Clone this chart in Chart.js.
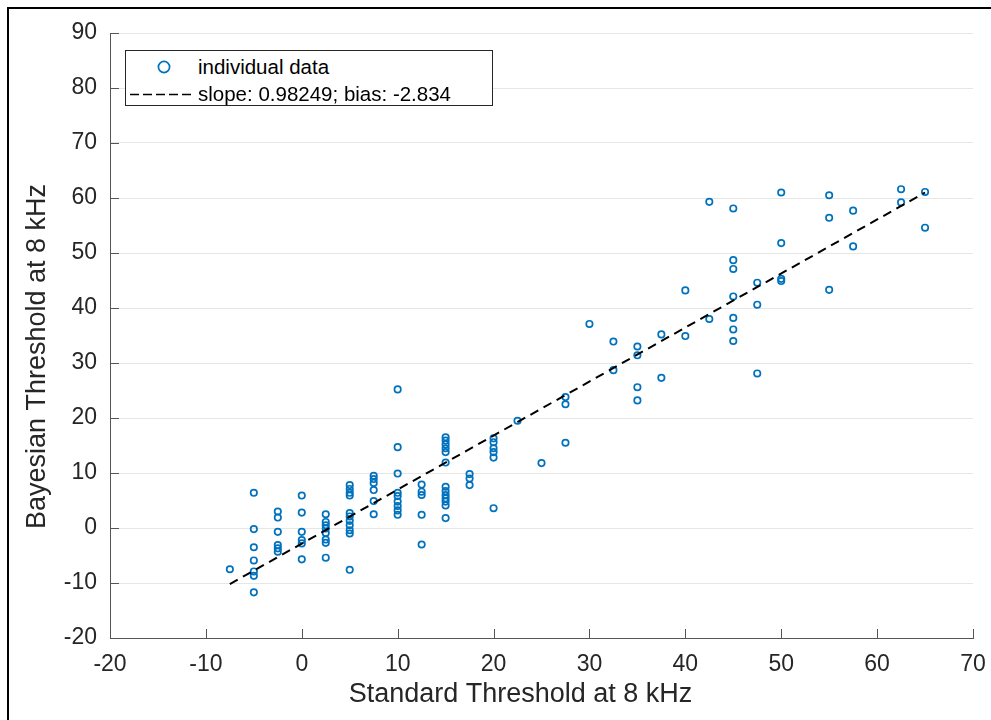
<!DOCTYPE html>
<html>
<head>
<meta charset="utf-8">
<script src="https://cdn.jsdelivr.net/npm/chart.js@4.4.1/dist/chart.umd.min.js"></script>
<style>
html,body{margin:0;padding:0;background:#fff;overflow:hidden}
#wrap{position:relative;width:991px;height:720px}
#c{position:absolute;left:0;top:0}
#frame{position:absolute;left:7px;top:7px;width:1000px;height:1000px;border:2px solid #000;pointer-events:none}
#legend{position:absolute;left:125px;top:50px;width:368px;height:56px;border:1px solid #262626;background:#fff;box-sizing:border-box;font-family:"Liberation Sans",Arial,sans-serif;font-size:20.5px;color:#000}
#legend .row{position:absolute;left:0;height:26px;line-height:26px;white-space:nowrap}
#legend .txt{position:absolute;left:72px;top:0}
#legend svg{position:absolute;left:0;top:0}
</style>
</head>
<body>
<div id="wrap">
<canvas id="c" width="991" height="720"></canvas>
<div id="legend"></div>
<div id="frame"></div>
</div>
<script>
// Standard threshold (x) and Bayesian threshold (y) for each individual data point
const standard = [
  -7.5,
  -5, -5, -5, -5, -5, -5, -5,
  -2.5, -2.5, -2.5, -2.5, -2.5, -2.5,
  0, 0, 0, 0, 0, 0,
  2.5, 2.5, 2.5, 2.5, 2.5, 2.5, 2.5, 2.5,
  5, 5, 5, 5, 5, 5, 5, 5, 5, 5, 5,
  7.5, 7.5, 7.5, 7.5, 7.5, 7.5,
  10, 10, 10, 10, 10, 10, 10, 10, 10,
  12.5, 12.5, 12.5, 12.5, 12.5,
  15, 15, 15, 15, 15, 15, 15, 15, 15, 15, 15, 15, 15,
  17.5, 17.5, 17.5,
  20, 20, 20, 20, 20, 20,
  22.5,
  25,
  27.5, 27.5, 27.5,
  30,
  32.5, 32.5,
  35, 35, 35, 35,
  37.5, 37.5,
  40, 40,
  42.5, 42.5,
  45, 45, 45, 45, 45, 45, 45,
  47.5, 47.5, 47.5,
  50, 50, 50, 50,
  55, 55, 55,
  57.5, 57.5,
  62.5, 62.5,
  65, 65
];
const bayesian = [
  -7.5,
  6.4, -0.2, -3.5, -5.9, -7.9, -8.7, -11.7,
  3.0, 1.9, -0.7, -3.1, -3.7, -4.3,
  5.9, 2.8, -0.7, -2.2, -2.8, -5.7,
  2.5, 1.1, 0.5, -0.1, -0.9, -2.1, -2.7, -5.4,
  7.8, 7.1, 6.4, 5.9, 2.7, 2.1, 1.3, 0.5, -0.4, -1.0, -7.6,
  9.5, 8.9, 8.2, 6.9, 4.9, 2.5,
  25.2, 14.7, 9.9, 6.4, 5.8, 4.8, 4.0, 3.2, 2.4,
  7.9, 6.6, 6.0, 2.4, -3.0,
  16.5, 15.9, 15.2, 14.5, 13.8, 11.9, 7.5, 6.7, 6.0, 5.4, 4.8, 4.1, 1.8,
  9.8, 9.0, 7.8,
  16.3, 15.6, 14.5, 13.8, 12.8, 3.6,
  19.5,
  11.8,
  23.8, 22.5, 15.5,
  37.1,
  33.9, 28.7,
  33.0, 31.4, 25.6, 23.2,
  35.2, 27.3,
  43.2, 34.9,
  59.3, 38.0,
  58.1, 48.7, 47.1, 42.1, 38.2, 36.1, 34.0,
  44.6, 40.6, 28.1,
  61.0, 51.8, 45.3, 44.9,
  60.5, 56.4, 43.3,
  57.7, 51.2,
  61.6, 59.2,
  61.1, 54.6
];
// Fitted line end points
const fitX = [-7.5, 65];
const fitY = [-10.2, 61.0];
const seriesLabels = ['individual data', 'slope: 0.98249; bias: -2.834'];
const xTicks = [-20, -10, 0, 10, 20, 30, 40, 50, 60, 70];
const yTicks = [-20, -10, 0, 10, 20, 30, 40, 50, 60, 70, 80, 90];
const xTitle = 'Standard Threshold at 8 kHz';
const yTitle = 'Bayesian Threshold at 8 kHz';

const BLUE = '#0072BD';
const AXIS = '#555555';
const TXT = '#262626';
const FONT = '"Liberation Sans", Arial, sans-serif';

const innerTicks = {
  id: 'innerTicks',
  afterDraw(chart) {
    const {ctx, chartArea, scales} = chart;
    ctx.save();
    ctx.strokeStyle = AXIS;
    ctx.lineWidth = 1;
    ctx.beginPath();
    xTicks.forEach(v => {
      const px = Math.round(scales.x.getPixelForValue(v)) + 0.5;
      ctx.moveTo(px, chartArea.bottom);
      ctx.lineTo(px, chartArea.bottom - 9);
    });
    yTicks.forEach(v => {
      const py = Math.round(scales.y.getPixelForValue(v)) + 0.5;
      ctx.moveTo(chartArea.left, py);
      ctx.lineTo(chartArea.left + 9, py);
    });
    ctx.stroke();
    ctx.restore();
  }
};

// shift an axis title slightly, as in the reference figure
function shiftTitle(s, dx, dy) {
  if (s._titleShifted) return;
  const orig = s.drawTitle;
  s.drawTitle = function () {
    this.ctx.save();
    this.ctx.translate(dx, dy);
    orig.apply(this, arguments);
    this.ctx.restore();
  };
  s._titleShifted = true;
}

const chart = new Chart(document.getElementById('c'), {
  type: 'scatter',
  data: {
    datasets: [
      {
        label: seriesLabels[0],
        data: standard.map((x, i) => ({x: x, y: bayesian[i]})),
        pointStyle: 'circle',
        pointRadius: 3.2,
        pointHoverRadius: 3.2,
        pointBorderWidth: 1.7,
        borderColor: BLUE,
        backgroundColor: 'rgba(0,0,0,0)',
        order: 2
      },
      {
        type: 'line',
        label: seriesLabels[1],
        data: fitX.map((x, i) => ({x: x, y: fitY[i]})),
        borderColor: '#000',
        borderWidth: 2,
        borderDash: [9, 6],
        pointRadius: 0,
        fill: false,
        order: 1
      }
    ]
  },
  options: {
    responsive: false,
    animation: false,
    events: [],
    layout: {padding: {top: 33, right: 18, left: 0, bottom: 0}},
    plugins: {legend: {display: false}, tooltip: {enabled: false}},
    scales: {
      x: {
        type: 'linear',
        min: -20, max: 70,
        afterBuildTicks: s => { s.ticks = xTicks.map(v => ({value: v})); },
        afterFit: s => { s.height = 82; s.paddingLeft = 0; s.paddingRight = 0; },
        afterUpdate: s => shiftTitle(s, -21, 0),
        ticks: {font: {family: FONT, size: 23}, color: TXT, padding: 13, maxRotation: 0, autoSkip: false},
        grid: {display: true, drawOnChartArea: false, drawTicks: false},
        border: {display: true, color: AXIS, width: 1},
        title: {display: true, text: xTitle, color: TXT, font: {family: FONT, size: 27, lineHeight: 1}, padding: {top: 0, bottom: 12}}
      },
      y: {
        type: 'linear',
        min: -20, max: 90,
        afterBuildTicks: s => { s.ticks = yTicks.map(v => ({value: v})); },
        afterFit: s => { s.width = 110; s.paddingTop = 0; s.paddingBottom = 0; },
        afterUpdate: s => shiftTitle(s, 0, 21),
        ticks: {font: {family: FONT, size: 23}, color: TXT, padding: 13, autoSkip: false},
        grid: {color: '#e6e6e6', lineWidth: 1, drawTicks: false},
        border: {display: true, color: AXIS, width: 1},
        title: {display: true, text: yTitle, color: TXT, font: {family: FONT, size: 27, lineHeight: 1}, padding: {top: 24, bottom: 0}}
      }
    }
  },
  plugins: [innerTicks]
});

// HTML legend built from the chart's datasets
(function buildLegend() {
  const lg = document.getElementById('legend');
  const ds = chart.data.datasets;
  const rows = [3, 30];
  ds.forEach((d, i) => {
    const row = document.createElement('div');
    row.className = 'row';
    row.style.top = rows[i] + 'px';
    row.style.width = '366px';
    let sym;
    if (i === 0) {
      sym = '<svg width="72" height="26"><circle cx="38" cy="13" r="5.6" fill="none" stroke="' + d.borderColor + '" stroke-width="1.7"/></svg>';
    } else {
      sym = '<svg width="72" height="26"><line x1="4" y1="13.5" x2="68" y2="13.5" stroke="#000" stroke-width="1.6" stroke-dasharray="9 4"/></svg>';
    }
    row.innerHTML = sym + '<span class="txt"></span>';
    row.querySelector('.txt').textContent = d.label;
    lg.appendChild(row);
  });
})();
</script>
</body>
</html>
